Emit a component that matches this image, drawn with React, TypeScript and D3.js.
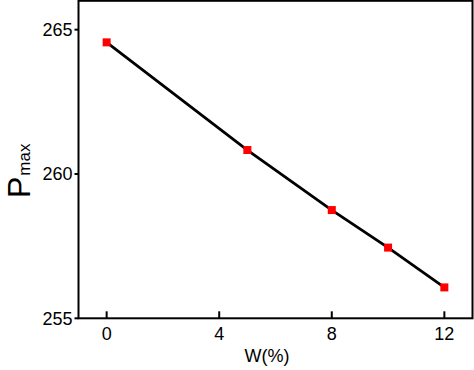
import React from "react";
import * as d3 from "d3";

const wValues = [0, 5, 8, 10, 12];
const pmaxValues = [264.56, 260.83, 258.75, 257.45, 256.07];
const xTicks = [0, 4, 8, 12];
const yTicks = [255, 260, 265];
const xLabel = "W(%)";
const yLabelMain = "P";
const yLabelSub = "max";

const W = 474;
const H = 370;
const left = 78.5;
const right = 472.5;
const top = 0.8;
const bottom = 318.3;

export default function App() {
  const x = d3.scaleLinear().domain([-1, 13]).range([left, right]);
  const y = d3.scaleLinear().domain([255, 266]).range([bottom, top]);
  const pts = wValues.map((w, i) => [w, pmaxValues[i]] as [number, number]);
  const line = d3
    .line<[number, number]>()
    .x((d) => x(d[0]))
    .y((d) => y(d[1]));
  const font = "'Liberation Sans', Arial, sans-serif";
  return (
    <svg
      width={W}
      height={H}
      style={{ position: "absolute", left: 0, top: 0, background: "#fff" }}
      fontFamily={font}
    >
      <rect x={0} y={0} width={W} height={H} fill="#fff" />
      <path d={line(pts) || ""} fill="none" stroke="#000" strokeWidth={2.8} />
      {pts.map((d, i) => (
        <rect
          key={i}
          x={x(d[0]) - 4}
          y={y(d[1]) - 4}
          width={8}
          height={8}
          fill="#f00"
        />
      ))}
      <rect
        x={left}
        y={top}
        width={right - left}
        height={bottom - top}
        fill="none"
        stroke="#000"
        strokeWidth={2}
      />
      {xTicks.map((t) => (
        <g key={t}>
          <line x1={x(t)} x2={x(t)} y1={bottom} y2={bottom - 7} stroke="#000" strokeWidth={2} />
          <text x={x(t)} y={339.5} textAnchor="middle" fontSize={18} fill="#000">
            {t}
          </text>
        </g>
      ))}
      {yTicks.map((t) => (
        <g key={t}>
          <line x1={left} x2={left - 4} y1={y(t)} y2={y(t)} stroke="#000" strokeWidth={2} />
          <text x={72.5} y={y(t) + 6.4} textAnchor="end" fontSize={18} fill="#000">
            {t}
          </text>
        </g>
      ))}
      <text x={267} y={362} textAnchor="middle" fontSize={18} fill="#000">
        {xLabel}
      </text>
      <text transform="translate(30,198) rotate(-90)" fill="#000">
        <tspan fontSize={32}>{yLabelMain}</tspan>
        <tspan fontSize={17} dx={1}>{yLabelSub}</tspan>
      </text>
    </svg>
  );
}
